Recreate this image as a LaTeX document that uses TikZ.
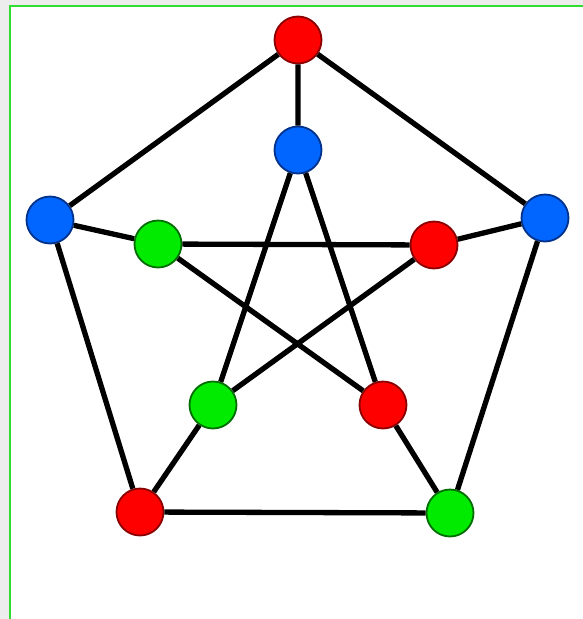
\documentclass[tikz,border=0pt]{standalone}
\definecolor{myred}{RGB}{255,0,0}
\definecolor{myredd}{RGB}{139,0,0}
\definecolor{myblue}{RGB}{0,102,255}
\definecolor{myblued}{RGB}{0,50,140}
\definecolor{mygreen}{RGB}{0,235,0}
\definecolor{mygreend}{RGB}{0,110,0}
\definecolor{frameg}{RGB}{50,220,50}
\begin{document}
\begin{tikzpicture}[x=1pt,y=-1pt,
  vtx/.style={circle,minimum size=47pt,inner sep=0pt,line width=1.8pt},
  rv/.style={vtx,fill=myred,draw=myredd},
  bv/.style={vtx,fill=myblue,draw=myblued},
  gv/.style={vtx,fill=mygreen,draw=mygreend},
  edge/.style={line width=5.3pt,black}]
\useasboundingbox (0,0) rectangle (583,619);
\fill[black!7] (0,0) rectangle (583,619);
\fill[white] (10,6) rectangle (583,619);
\draw[line width=2pt,frameg] (10,619) -- (10,6) -- (583,6);
\node[rv] (ot) at (298,40) {};
\node[bv] (ol) at (50,220) {};
\node[bv] (or) at (545,218) {};
\node[rv] (obl) at (140,512) {};
\node[gv] (obr) at (450,513) {};
\node[bv] (it) at (298,150) {};
\node[gv] (il) at (158,244) {};
\node[rv] (ir) at (434,245) {};
\node[gv] (ibl) at (213,405) {};
\node[rv] (ibr) at (383,405) {};
\draw[edge] (ot) -- (ol) (ol) -- (obl) (obl) -- (obr) (obr) -- (or) (or) -- (ot);
\draw[edge] (ot) -- (it) (ol) -- (il) (or) -- (ir) (obl) -- (ibl) (obr) -- (ibr);
\draw[edge] (it) -- (ibl) (it) -- (ibr) (il) -- (ir) (il) -- (ibr) (ir) -- (ibl);
\end{tikzpicture}
\end{document}
